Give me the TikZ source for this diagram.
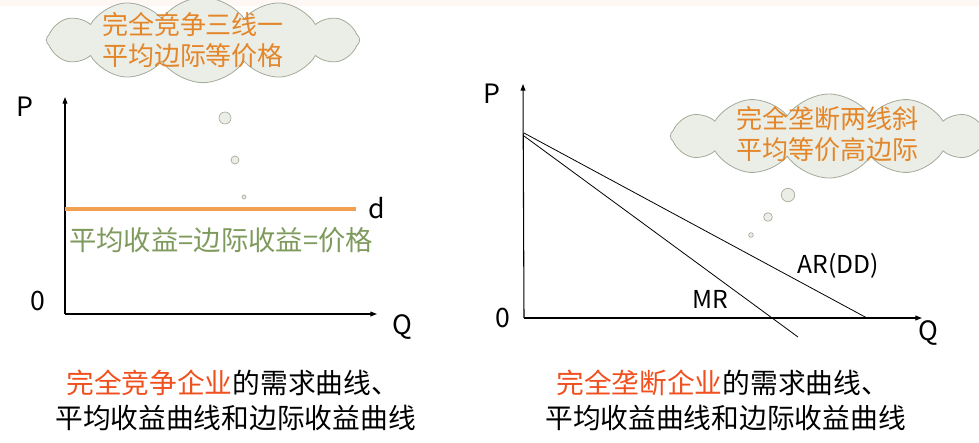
\documentclass[tikz,border=0pt]{standalone}
\usepackage{fontspec}
\setmainfont{Noto Sans CJK SC}
\usetikzlibrary{shapes.symbols,arrows.meta}
\definecolor{cloudfill}{HTML}{EBEEE6}
\definecolor{clouddraw}{HTML}{A3AA9A}
\definecolor{cloudtext}{HTML}{E3862A}
\definecolor{capred}{HTML}{F0501E}
\definecolor{greentext}{HTML}{7E9A5C}
\definecolor{orangeline}{HTML}{F2A050}
\definecolor{topband}{HTML}{FDF8F4}
\tikzset{
  cloudbox/.style={cloud, cloud puffs=12, cloud puff arc=110, aspect=3.8, fill=cloudfill, draw=clouddraw, line width=0.6pt, inner sep=0pt},
  cloudtxt/.style={text=cloudtext, font=\fontsize{19.5pt}{23pt}\selectfont, align=center, inner sep=0pt},
  bubble/.style={circle, fill=cloudfill, draw=clouddraw, line width=0.5pt, inner sep=0pt},
  axis/.style={line width=0.8pt, -{Triangle[length=5pt,width=3.6pt]}},
  curve/.style={line width=0.6pt},
  lbl/.style={font=\fontsize{20pt}{23pt}\selectfont, inner sep=0pt},
  clbl/.style={font=\fontsize{18.5pt}{22pt}\selectfont, inner sep=0pt},
  caption/.style={font=\fontsize{20.8pt}{24pt}\selectfont, anchor=west, inner sep=0pt},
}
\begin{document}
\begin{tikzpicture}[x=0.75pt,y=-0.75pt]
\useasboundingbox (0,0) rectangle (979,443);
\fill[topband] (0,0) rectangle (979,6);

% ---------- left diagram ----------
\node[cloudbox, minimum width=235pt, minimum height=64pt] (cloudA) at (203,40) {};
\node[cloudtxt] (cloudAtext) at (193,40) {完全竞争三线一\\平均边际等价格};
\node[bubble, minimum size=9pt] (bA1) at (225,118) {};
\node[bubble, minimum size=6pt] (bA2) at (235,160) {};
\node[bubble, minimum size=3pt] (bA3) at (244,197) {};

\coordinate (oA) at (65,314);
\coordinate (yA) at (65,97);
\coordinate (xA) at (377,314);
\draw[axis] (oA) -- (yA);
\draw[axis] (oA) -- (xA);
\node[lbl] (PA) at (25,107) {P};
\node[lbl] (zeroA) at (38,301) {0};
\node[lbl] (QA) at (402,327) {Q};

\coordinate (dA0) at (65,209);
\coordinate (dA1) at (356,209);
\draw[orangeline, line width=2.4pt] (dA0) -- (dA1);
\node[lbl] (dlab) at (377,208) {d};
\node[text=greentext, font=\fontsize{20.5pt}{23pt}\selectfont, anchor=west, inner sep=0pt] (eqA) at (69,240) {平均收益=边际收益=价格};

\node[caption] (capA1) at (66,383) {\textcolor{capred}{完全竞争企业}的需求曲线、};
\node[caption] (capA2) at (55,418) {平均收益曲线和边际收益曲线};

% ---------- right diagram ----------
\node[cloudbox, minimum width=238pt, minimum height=63pt] (cloudB) at (829,136) {};
\node[cloudtxt] (cloudBtext) at (827,134) {完全垄断两线斜\\平均等价高边际};
\node[bubble, minimum size=10pt] (bB1) at (788,195) {};
\node[bubble, minimum size=6.5pt] (bB2) at (768,217) {};
\node[bubble, minimum size=3.5pt] (bB3) at (751,235) {};

\coordinate (oB) at (524,318);
\coordinate (yB) at (523,84);
\coordinate (xB) at (922,318);
\draw[axis] (oB) -- (yB);
\draw[axis] (oB) -- (xB);
\node[lbl] (PB) at (492,94) {P};
\node[lbl] (zeroB) at (503,318) {0};
\node[lbl] (QB) at (928,333) {Q};

\coordinate (arS) at (524,133);
\coordinate (arE) at (867,318);
\coordinate (mrS) at (524,136);
\coordinate (mrE) at (798,337);
\draw[curve] (arS) -- (arE);
\draw[curve] (mrS) -- (mrE);
\node[clbl] (ARlab) at (838,266) {AR(DD)};
\node[clbl] (MRlab) at (710,299) {MR};

\node[caption] (capB1) at (556,383) {\textcolor{capred}{完全垄断企业}的需求曲线、};
\node[caption] (capB2) at (545,418) {平均收益曲线和边际收益曲线};
\end{tikzpicture}
\end{document}
